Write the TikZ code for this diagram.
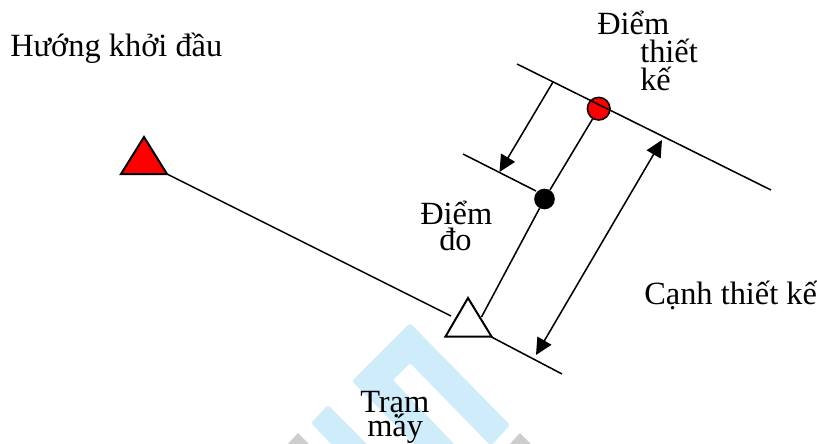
\documentclass[tikz,border=0pt]{standalone}
\usepackage{fontspec}
\setmainfont{Liberation Serif}
\usetikzlibrary{arrows.meta}
\definecolor{wmblue}{RGB}{207,236,251}
\definecolor{wmgrey}{RGB}{205,205,205}
\tikzset{
  x=0.75pt,y=-0.75pt,
  ln/.style={draw=black,line width=1.15pt},
  tip/.tip={Triangle[length=12.5pt,width=12pt]},
  lab/.style={font=\fontsize{24.3}{24.3}\selectfont,inner sep=0pt,anchor=base west},
  tri/.style={draw=black,line width=1.5pt,line join=miter},
  wm/.style={fill=wmblue,draw=none,rounded corners=2pt},
  wmg/.style={fill=wmgrey,draw=none},
}
\begin{document}
\begin{tikzpicture}
\useasboundingbox (0,0) rectangle (817,443);
% watermark
\path[wm] (410,323) -- (510,425) -- (492,445) -- (490,445) -- (410,363) -- (393,380) -- (455,445) -- (415,445) -- (352,381) -- cycle;
\path[wm] (328,405) -- (368,445) -- (332,445) -- (311,423) -- cycle;
\path[wmg] (298,433) -- (287,445) -- (310,445) -- cycle;
\path[wmg] (520,433) -- (509,445) -- (532,445) -- cycle;
% coordinates
\coordinate (a1) at (517,64);
\coordinate (a2) at (771,190);
\coordinate (b1) at (463,154);
\coordinate (b2) at (536,191);
\coordinate (c1) at (491.5,337);
\coordinate (c2) at (562,374);
\coordinate (m1) at (553,82);
\coordinate (m2) at (499.5,172);
\coordinate (n1) at (662,140);
\coordinate (n2) at (536,355);
\coordinate (red) at (167,174);
\coordinate (st) at (451,316);
\coordinate (str) at (481.5,317);
% triangles and circles
\node[circle,ln,fill=red,minimum size=17pt,inner sep=0pt] (dtk) at (598.7,108.7) {};
\node[circle,fill=black,minimum size=15.5pt,inner sep=0pt] (dd) at (544.5,199) {};
% lines
\draw[ln] (red) -- (st);
\draw[ln] (c1) -- (c2);
\draw[ln] (str) -- (dd);
\draw[ln] (dd) -- (dtk);
\draw[ln] (b1) -- (b2);
\draw[ln,-tip] (m1) -- (m2);
\draw[ln,tip-tip] (n2) -- (n1);
\draw[ln] (a1) -- (a2);
\draw[tri,fill=red] (144,137) -- (121,174) -- (167,174) -- cycle;
\draw[tri,fill=white] (468,298) -- (445.5,336.5) -- (491.5,336.5) -- cycle;
% labels
\node[lab] (t1) at (10,56) {Hướng khởi đầu};
\node[lab] (t2) at (597,34) {Điểm};
\node[lab] (t3) at (640,62) {thiết};
\node[lab] (t4) at (640,90) {kế};
\node[lab] (t5) at (420,224) {Điểm};
\node[lab] (t6) at (439,250) {đo};
\node[lab] (t7) at (644,304) {Cạnh thiết kế};
\node[lab] (t8) at (360,412) {Trạm};
\node[lab] (t9) at (367,436) {máy};
\end{tikzpicture}
\end{document}
